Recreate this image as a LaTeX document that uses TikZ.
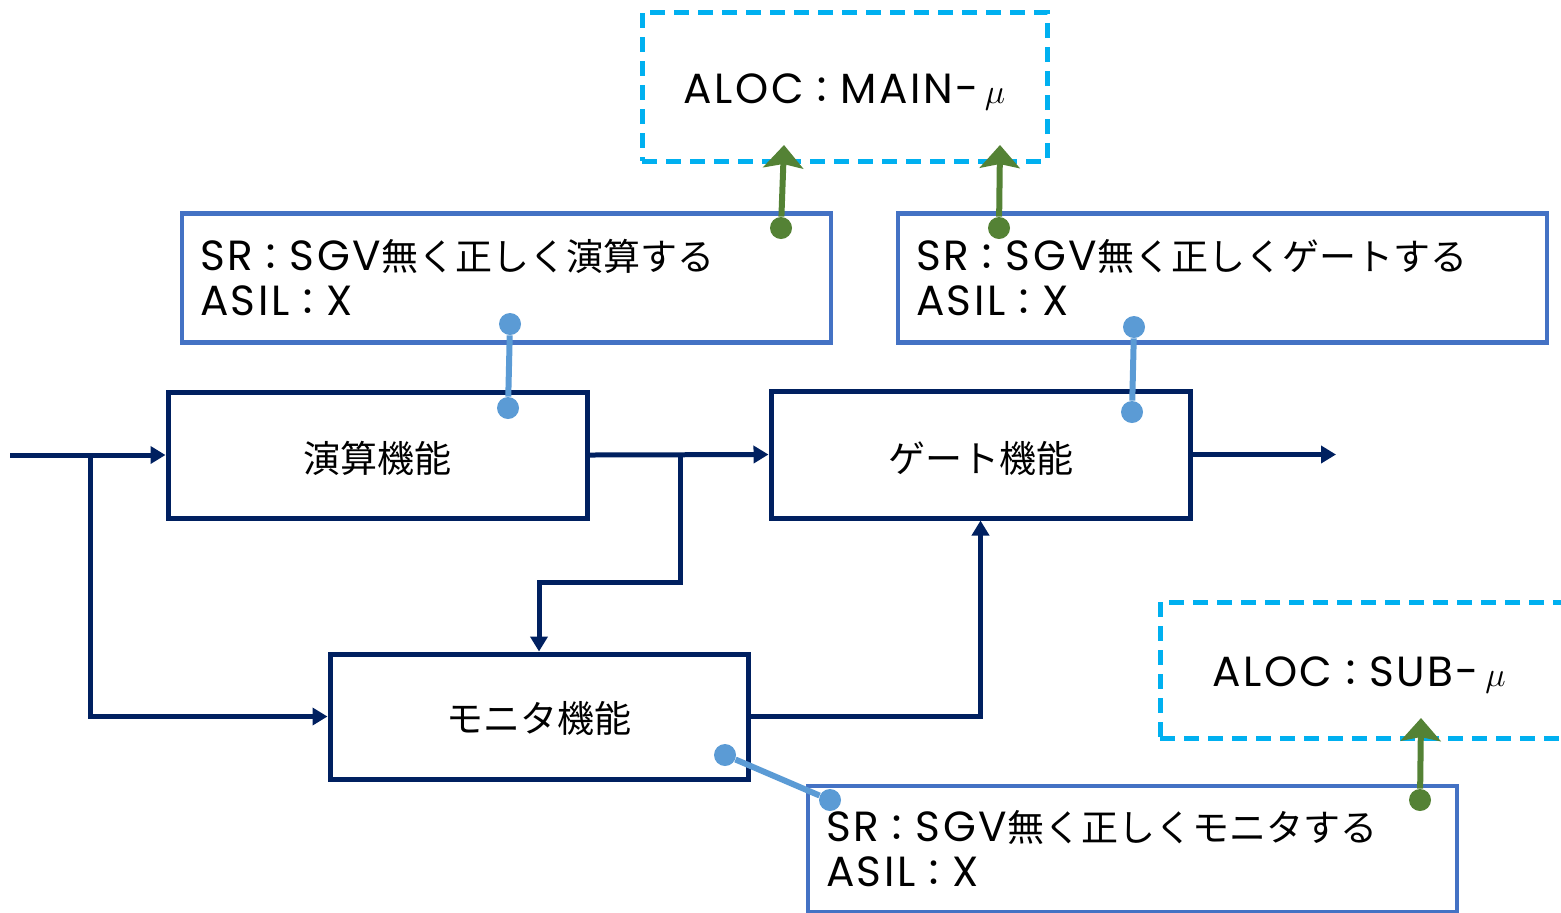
\documentclass[tikz,border=0pt]{standalone}
\usepackage{fontspec}
\setmainfont{Noto Sans CJK JP}
\newfontfamily\latfont{Poppins}[LetterSpace=6,Scale=1.14]
\newcommand\ltn[1]{{\latfont #1}}
\usetikzlibrary{arrows.meta}
\definecolor{navy}{HTML}{002060}
\definecolor{srblue}{HTML}{4472C4}
\definecolor{cyanb}{HTML}{00B0F0}
\definecolor{pinblue}{HTML}{5B9BD5}
\definecolor{agreen}{HTML}{548235}
\tikzset{
  funcbox/.style={draw=navy, line width=2.5pt, rectangle, inner sep=0pt, text depth=0pt, font=\fontsize{18.5}{22}\selectfont},
  srbox/.style={draw=srblue, line width=2.4pt, rectangle, inner xsep=9pt, inner ysep=0pt, text width=306.5pt, minimum height=64.5pt, align=left, font=\fontsize{18.5}{22.5}\selectfont},
  alocbox/.style={draw=cyanb, line width=2.5pt, dash pattern=on 7.5pt off 4.5pt, rectangle, inner sep=0pt, text depth=0pt, font=\fontsize{18.5}{22}\selectfont},
  flow/.style={draw=navy, line width=2.5pt, -{Triangle[length=7.5pt,width=8.5pt]}},
  ldot/.style={circle, fill=pinblue, inner sep=0pt, minimum size=11pt},
  gdot/.style={circle, fill=agreen, inner sep=0pt, minimum size=11pt},
  pin/.style={draw=pinblue, line width=3pt},
  garrow/.style={draw=agreen, line width=3pt, -{Stealth[length=11.5pt,width=20pt,inset=2pt]}}
}
\begin{document}
\begin{tikzpicture}[x=0.5pt,y=-0.5pt]
\useasboundingbox (0,0) rectangle (1561,912);
% allocation boxes
\node[alocbox, minimum width=202.5pt, minimum height=74.5pt, text height=17pt] (main) at (844.5,86.5) {\ltn{ALOC}：\ltn{MAIN-}\,$\mu$};
\node[alocbox, minimum width=206pt, minimum height=68pt, text height=16.5pt] (sub) at (1366,670) {\hspace*{-7pt}\ltn{ALOC}：\ltn{SUB-}\,$\mu$};
% safety requirement boxes
\node[srbox] (sr1) at (506.5,278) {\ltn{SR}：\ltn{SGV}無く正しく演算する\\\ltn{ASIL}：\ltn{X}};
\node[srbox] (sr2) at (1222.5,278) {\ltn{SR}：\ltn{SGV}無く正しくゲートする\\\ltn{ASIL}：\ltn{X}};
\node[srbox, minimum height=63pt] (sr3) at (1132.5,849) {\ltn{SR}：\ltn{SGV}無く正しくモニタする\\\ltn{ASIL}：\ltn{X}};
% function boxes
\node[funcbox, minimum width=209.5pt, minimum height=63pt, text height=17pt] (calc) at (377.5,455) {演算機能};
\node[funcbox, minimum width=209.5pt, minimum height=63.5pt, text height=17.5pt] (gate) at (980.5,454.5) {ゲート機能};
\node[funcbox, minimum width=209pt, minimum height=62.5pt, text height=15.5pt] (mon) at (539,716.5) {モニタ機能};
% flow connectors
\coordinate (in) at (10,455);
\coordinate (br1) at (90,455);
\coordinate (br2) at (680,455);
\coordinate (br3) at (680,582);
\coordinate (out) at (1336,454.5);
\draw[flow] (in) -- (calc.west);
\draw[flow] (br1) |- (mon.west);
\draw[flow] (calc.east) -- (gate.west);
\draw[flow] (br2) -- (br3) -| (mon.north);
\draw[flow] (mon.east) -| (gate.south);
\draw[flow] (gate.east) -- (out);
% requirement pins
\node[ldot] (p1a) at (510,324) {};
\node[ldot] (p1b) at (508,408) {};
\draw[pin] (p1a) -- (p1b);
\node[ldot] (p2a) at (1134,327) {};
\node[ldot] (p2b) at (1132,412) {};
\draw[pin] (p2a) -- (p2b);
\node[ldot] (p3a) at (725,755) {};
\node[ldot] (p3b) at (830,800) {};
\draw[pin] (p3a) -- (p3b);
% allocation arrows
\node[gdot] (g1) at (781,228) {};
\coordinate (g1t) at (784,145);
\draw[garrow] (g1) -- (g1t);
\node[gdot] (g2) at (999,228) {};
\coordinate (g2t) at (1000,145);
\draw[garrow] (g2) -- (g2t);
\node[gdot] (g3) at (1420,800) {};
\coordinate (g3t) at (1421,718);
\draw[garrow] (g3) -- (g3t);
\end{tikzpicture}
\end{document}
